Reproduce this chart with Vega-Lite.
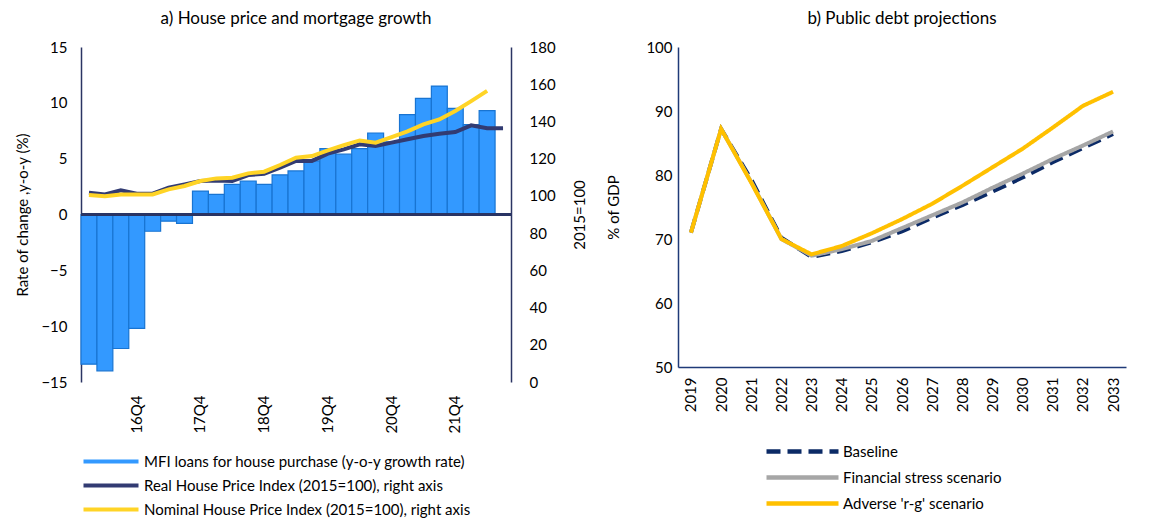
{
  "$schema": "https://vega.github.io/schema/vega-lite/v6.json",
  "padding": {"left": 15, "top": 10, "right": 5, "bottom": 5},
  "config": {
    "font": "Lato",
    "view": {"stroke": null},
    "axis": {"grid": false, "labelFontSize": 15, "titleFontSize": 15, "labelColor": "#000000", "titleColor": "#000000", "titleFontWeight": "normal", "ticks": false, "domainWidth": 1.5},
    "legend": {"labelFontSize": 15, "labelColor": "#000000"},
    "title": {"fontSize": 17, "fontWeight": "normal", "color": "#000000"}
  },
  "datasets": {
    "loans": [
      {"q": "16Q1", "series": "MFI loans for house purchase (y-o-y growth rate)", "value": -13.4},
      {"q": "16Q2", "series": "MFI loans for house purchase (y-o-y growth rate)", "value": -14.0},
      {"q": "16Q3", "series": "MFI loans for house purchase (y-o-y growth rate)", "value": -12.0},
      {"q": "16Q4", "series": "MFI loans for house purchase (y-o-y growth rate)", "value": -10.2},
      {"q": "17Q1", "series": "MFI loans for house purchase (y-o-y growth rate)", "value": -1.5},
      {"q": "17Q2", "series": "MFI loans for house purchase (y-o-y growth rate)", "value": -0.6},
      {"q": "17Q3", "series": "MFI loans for house purchase (y-o-y growth rate)", "value": -0.8},
      {"q": "17Q4", "series": "MFI loans for house purchase (y-o-y growth rate)", "value": 2.1},
      {"q": "18Q1", "series": "MFI loans for house purchase (y-o-y growth rate)", "value": 1.8},
      {"q": "18Q2", "series": "MFI loans for house purchase (y-o-y growth rate)", "value": 2.7},
      {"q": "18Q3", "series": "MFI loans for house purchase (y-o-y growth rate)", "value": 3.0},
      {"q": "18Q4", "series": "MFI loans for house purchase (y-o-y growth rate)", "value": 2.7},
      {"q": "19Q1", "series": "MFI loans for house purchase (y-o-y growth rate)", "value": 3.55},
      {"q": "19Q2", "series": "MFI loans for house purchase (y-o-y growth rate)", "value": 3.9},
      {"q": "19Q3", "series": "MFI loans for house purchase (y-o-y growth rate)", "value": 4.8},
      {"q": "19Q4", "series": "MFI loans for house purchase (y-o-y growth rate)", "value": 5.9},
      {"q": "20Q1", "series": "MFI loans for house purchase (y-o-y growth rate)", "value": 5.4},
      {"q": "20Q2", "series": "MFI loans for house purchase (y-o-y growth rate)", "value": 5.9},
      {"q": "20Q3", "series": "MFI loans for house purchase (y-o-y growth rate)", "value": 7.3},
      {"q": "20Q4", "series": "MFI loans for house purchase (y-o-y growth rate)", "value": 6.5},
      {"q": "21Q1", "series": "MFI loans for house purchase (y-o-y growth rate)", "value": 8.95},
      {"q": "21Q2", "series": "MFI loans for house purchase (y-o-y growth rate)", "value": 10.4},
      {"q": "21Q3", "series": "MFI loans for house purchase (y-o-y growth rate)", "value": 11.5},
      {"q": "21Q4", "series": "MFI loans for house purchase (y-o-y growth rate)", "value": 9.5},
      {"q": "22Q1", "series": "MFI loans for house purchase (y-o-y growth rate)", "value": 8.05},
      {"q": "22Q2", "series": "MFI loans for house purchase (y-o-y growth rate)", "value": 9.3}
    ],
    "hpi": [
      {"q": "16Q1", "series": "Real House Price Index (2015=100), right axis", "value": 101.7},
      {"q": "16Q2", "series": "Real House Price Index (2015=100), right axis", "value": 100.8},
      {"q": "16Q3", "series": "Real House Price Index (2015=100), right axis", "value": 103.0},
      {"q": "16Q4", "series": "Real House Price Index (2015=100), right axis", "value": 101.2},
      {"q": "17Q1", "series": "Real House Price Index (2015=100), right axis", "value": 101.2},
      {"q": "17Q2", "series": "Real House Price Index (2015=100), right axis", "value": 104.4},
      {"q": "17Q3", "series": "Real House Price Index (2015=100), right axis", "value": 106.2},
      {"q": "17Q4", "series": "Real House Price Index (2015=100), right axis", "value": 108.0},
      {"q": "18Q1", "series": "Real House Price Index (2015=100), right axis", "value": 108.3},
      {"q": "18Q2", "series": "Real House Price Index (2015=100), right axis", "value": 108.0},
      {"q": "18Q3", "series": "Real House Price Index (2015=100), right axis", "value": 111.2},
      {"q": "18Q4", "series": "Real House Price Index (2015=100), right axis", "value": 111.9},
      {"q": "19Q1", "series": "Real House Price Index (2015=100), right axis", "value": 115.2},
      {"q": "19Q2", "series": "Real House Price Index (2015=100), right axis", "value": 118.8},
      {"q": "19Q3", "series": "Real House Price Index (2015=100), right axis", "value": 118.8},
      {"q": "19Q4", "series": "Real House Price Index (2015=100), right axis", "value": 122.7},
      {"q": "20Q1", "series": "Real House Price Index (2015=100), right axis", "value": 125.0},
      {"q": "20Q2", "series": "Real House Price Index (2015=100), right axis", "value": 127.7},
      {"q": "20Q3", "series": "Real House Price Index (2015=100), right axis", "value": 126.8},
      {"q": "20Q4", "series": "Real House Price Index (2015=100), right axis", "value": 128.6},
      {"q": "21Q1", "series": "Real House Price Index (2015=100), right axis", "value": 130.4},
      {"q": "21Q2", "series": "Real House Price Index (2015=100), right axis", "value": 132.2},
      {"q": "21Q3", "series": "Real House Price Index (2015=100), right axis", "value": 133.4},
      {"q": "21Q4", "series": "Real House Price Index (2015=100), right axis", "value": 134.3},
      {"q": "22Q1", "series": "Real House Price Index (2015=100), right axis", "value": 137.9},
      {"q": "22Q2", "series": "Real House Price Index (2015=100), right axis", "value": 136.3},
      {"q": "22Q3", "series": "Real House Price Index (2015=100), right axis", "value": 136.3},
      {"q": "16Q1", "series": "Nominal House Price Index (2015=100), right axis", "value": 100.5},
      {"q": "16Q2", "series": "Nominal House Price Index (2015=100), right axis", "value": 99.8},
      {"q": "16Q3", "series": "Nominal House Price Index (2015=100), right axis", "value": 100.8},
      {"q": "16Q4", "series": "Nominal House Price Index (2015=100), right axis", "value": 100.8},
      {"q": "17Q1", "series": "Nominal House Price Index (2015=100), right axis", "value": 100.8},
      {"q": "17Q2", "series": "Nominal House Price Index (2015=100), right axis", "value": 103.5},
      {"q": "17Q3", "series": "Nominal House Price Index (2015=100), right axis", "value": 105.3},
      {"q": "17Q4", "series": "Nominal House Price Index (2015=100), right axis", "value": 108.0},
      {"q": "18Q1", "series": "Nominal House Price Index (2015=100), right axis", "value": 109.4},
      {"q": "18Q2", "series": "Nominal House Price Index (2015=100), right axis", "value": 109.8},
      {"q": "18Q3", "series": "Nominal House Price Index (2015=100), right axis", "value": 112.1},
      {"q": "18Q4", "series": "Nominal House Price Index (2015=100), right axis", "value": 113.0},
      {"q": "19Q1", "series": "Nominal House Price Index (2015=100), right axis", "value": 116.6},
      {"q": "19Q2", "series": "Nominal House Price Index (2015=100), right axis", "value": 120.5},
      {"q": "19Q3", "series": "Nominal House Price Index (2015=100), right axis", "value": 121.4},
      {"q": "19Q4", "series": "Nominal House Price Index (2015=100), right axis", "value": 124.4},
      {"q": "20Q1", "series": "Nominal House Price Index (2015=100), right axis", "value": 127.3},
      {"q": "20Q2", "series": "Nominal House Price Index (2015=100), right axis", "value": 129.8},
      {"q": "20Q3", "series": "Nominal House Price Index (2015=100), right axis", "value": 128.6},
      {"q": "20Q4", "series": "Nominal House Price Index (2015=100), right axis", "value": 131.6},
      {"q": "21Q1", "series": "Nominal House Price Index (2015=100), right axis", "value": 134.7},
      {"q": "21Q2", "series": "Nominal House Price Index (2015=100), right axis", "value": 138.4},
      {"q": "21Q3", "series": "Nominal House Price Index (2015=100), right axis", "value": 141.1},
      {"q": "21Q4", "series": "Nominal House Price Index (2015=100), right axis", "value": 145.6},
      {"q": "22Q1", "series": "Nominal House Price Index (2015=100), right axis", "value": 150.9},
      {"q": "22Q2", "series": "Nominal House Price Index (2015=100), right axis", "value": 156.4}
    ],
    "debt": [
      {"year": "2019", "series": "Baseline", "value": 71.0},
      {"year": "2020", "series": "Baseline", "value": 87.2},
      {"year": "2021", "series": "Baseline", "value": 79.3},
      {"year": "2022", "series": "Baseline", "value": 70.2},
      {"year": "2023", "series": "Baseline", "value": 67.2},
      {"year": "2024", "series": "Baseline", "value": 68.1},
      {"year": "2025", "series": "Baseline", "value": 69.5},
      {"year": "2026", "series": "Baseline", "value": 71.2},
      {"year": "2027", "series": "Baseline", "value": 73.3},
      {"year": "2028", "series": "Baseline", "value": 75.3},
      {"year": "2029", "series": "Baseline", "value": 77.4},
      {"year": "2030", "series": "Baseline", "value": 79.6},
      {"year": "2031", "series": "Baseline", "value": 82.0},
      {"year": "2032", "series": "Baseline", "value": 84.2},
      {"year": "2033", "series": "Baseline", "value": 86.4},
      {"year": "2019", "series": "Financial stress scenario", "value": 71.0},
      {"year": "2020", "series": "Financial stress scenario", "value": 87.2},
      {"year": "2021", "series": "Financial stress scenario", "value": 78.9},
      {"year": "2022", "series": "Financial stress scenario", "value": 70.0},
      {"year": "2023", "series": "Financial stress scenario", "value": 67.4},
      {"year": "2024", "series": "Financial stress scenario", "value": 68.4},
      {"year": "2025", "series": "Financial stress scenario", "value": 69.7},
      {"year": "2026", "series": "Financial stress scenario", "value": 71.7},
      {"year": "2027", "series": "Financial stress scenario", "value": 73.7},
      {"year": "2028", "series": "Financial stress scenario", "value": 75.7},
      {"year": "2029", "series": "Financial stress scenario", "value": 78.0},
      {"year": "2030", "series": "Financial stress scenario", "value": 80.2},
      {"year": "2031", "series": "Financial stress scenario", "value": 82.5},
      {"year": "2032", "series": "Financial stress scenario", "value": 84.6},
      {"year": "2033", "series": "Financial stress scenario", "value": 86.8},
      {"year": "2019", "series": "Adverse 'r-g' scenario", "value": 71.0},
      {"year": "2020", "series": "Adverse 'r-g' scenario", "value": 87.2},
      {"year": "2021", "series": "Adverse 'r-g' scenario", "value": 78.8},
      {"year": "2022", "series": "Adverse 'r-g' scenario", "value": 70.0},
      {"year": "2023", "series": "Adverse 'r-g' scenario", "value": 67.6},
      {"year": "2024", "series": "Adverse 'r-g' scenario", "value": 68.9},
      {"year": "2025", "series": "Adverse 'r-g' scenario", "value": 70.9},
      {"year": "2026", "series": "Adverse 'r-g' scenario", "value": 73.1},
      {"year": "2027", "series": "Adverse 'r-g' scenario", "value": 75.5},
      {"year": "2028", "series": "Adverse 'r-g' scenario", "value": 78.3},
      {"year": "2029", "series": "Adverse 'r-g' scenario", "value": 81.2},
      {"year": "2030", "series": "Adverse 'r-g' scenario", "value": 84.1},
      {"year": "2031", "series": "Adverse 'r-g' scenario", "value": 87.4},
      {"year": "2032", "series": "Adverse 'r-g' scenario", "value": 90.8},
      {"year": "2033", "series": "Adverse 'r-g' scenario", "value": 93.0}
    ]
  },
  "spacing": 18,
  "resolve": {"scale": {"color": "independent", "strokeDash": "independent"}, "legend": {"color": "independent", "strokeDash": "independent"}},
  "hconcat": [
    {
      "title": {"text": "a) House price and mortgage growth", "offset": 12},
      "width": 430,
      "height": 335,
      "layer": [
        {
          "layer": [
            {
              "data": {"name": "loans"},
              "mark": {"type": "bar", "stroke": "#1874D2", "strokeWidth": 1.2},
              "encoding": {
                "x": {
                  "field": "q", "type": "ordinal", "sort": null,
                  "scale": {"domain": ["16Q1","16Q2","16Q3","16Q4","17Q1","17Q2","17Q3","17Q4","18Q1","18Q2","18Q3","18Q4","19Q1","19Q2","19Q3","19Q4","20Q1","20Q2","20Q3","20Q4","21Q1","21Q2","21Q3","21Q4","22Q1","22Q2","22Q3"], "paddingInner": 0, "paddingOuter": 0},
                  "axis": {"title": null, "labelAngle": -90, "labelPadding": 13, "domain": false, "labelExpr": "indexof(datum.label, 'Q4') > 0 ? datum.label : ''"}
                },
                "y": {
                  "field": "value", "type": "quantitative",
                  "scale": {"domain": [-15, 15], "nice": false},
                  "axis": {"values": [-15, -10, -5, 0, 5, 10, 15], "title": "Rate of change ,y-o-y (%)", "labelPadding": 14, "titlePadding": 10, "domainColor": "#2B3463"}
                },
                "color": {
                  "field": "series", "type": "nominal",
                  "scale": {"domain": ["MFI loans for house purchase (y-o-y growth rate)", "Real House Price Index (2015=100), right axis", "Nominal House Price Index (2015=100), right axis"], "range": ["#3399FF", "#323B72", "#FFD426"]},
                  "legend": {
                    "title": null, "orient": "bottom", "direction": "vertical", "offset": 20,
                    "symbolType": "M-1,0H10", "symbolSize": 100, "symbolStrokeWidth": 4, "rowPadding": 7, "labelOffset": 48, "labelLimit": 500,
                    "encode": {"symbols": {"update": {
                      "shape": {"signal": "datum.index === 0 ? 'M-1,-1H10V1H-1Z' : 'M-1,0H10'"},
                      "fill": {"signal": "datum.index === 0 ? '#3399FF' : 'transparent'"},
                      "stroke": {"signal": "datum.index === 0 ? '#1874D2' : (datum.index === 1 ? '#323B72' : '#FFD426')"},
                      "strokeWidth": {"signal": "datum.index === 0 ? 1.2 : 4"},
                      "opacity": {"value": 1}
                    }}}
                  }
                }
              }
            },
            {
              "data": {"name": "loans"},
              "mark": {"type": "rule", "color": "#2B3463", "strokeWidth": 1.5},
              "encoding": {"y": {"datum": 0}}
            }
          ]
        },
        {
          "data": {"name": "hpi"},
          "mark": {"type": "line", "strokeWidth": 4},
          "encoding": {
            "x": {"field": "q", "type": "ordinal", "sort": null},
            "y": {
              "field": "value", "type": "quantitative",
              "scale": {"domain": [0, 180], "nice": false},
              "axis": {"orient": "right", "values": [0, 20, 40, 60, 80, 100, 120, 140, 160, 180], "title": "2015=100", "titleAngle": 270, "labelPadding": 18, "titlePadding": 32, "domainColor": "#2B3463"}
            },
            "color": {"field": "series", "type": "nominal"}
          }
        }
      ],
      "resolve": {"scale": {"y": "independent"}}
    },
    {
      "title": {"text": "b) Public debt projections", "offset": 12},
      "width": 448,
      "height": 320,
      "data": {"name": "debt"},
      "mark": {"type": "line", "strokeWidth": 4},
      "encoding": {
        "x": {
          "field": "year", "type": "ordinal", "sort": null,
          "scale": {"type": "point", "padding": 0.43},
          "axis": {"title": null, "labelAngle": -90, "labelPadding": 10, "domainColor": "#1F3A78"}
        },
        "y": {
          "field": "value", "type": "quantitative",
          "scale": {"domain": [50, 100], "nice": false},
          "axis": {"values": [50, 60, 70, 80, 90, 100], "title": "% of GDP", "labelPadding": 6, "titlePadding": 24, "domainColor": "#1F3A78"}
        },
        "color": {
          "field": "series", "type": "nominal", "sort": null,
          "scale": {"domain": ["Baseline", "Financial stress scenario", "Adverse 'r-g' scenario"], "range": ["#0B2A66", "#A6A6A6", "#FFC000"]},
          "legend": {"title": null, "orient": "none", "legendX": 84, "legendY": 397, "direction": "vertical", "symbolType": "M-1,0H23", "symbolSize": 36, "symbolStrokeWidth": 4.5, "rowPadding": 7, "labelOffset": 66, "labelLimit": 400}
        },
        "strokeDash": {
          "field": "series", "type": "nominal", "sort": null,
          "scale": {"domain": ["Baseline", "Financial stress scenario", "Adverse 'r-g' scenario"], "range": [[14, 7], [1, 0], [1, 0]]}
        }
      }
    }
  ]
}
